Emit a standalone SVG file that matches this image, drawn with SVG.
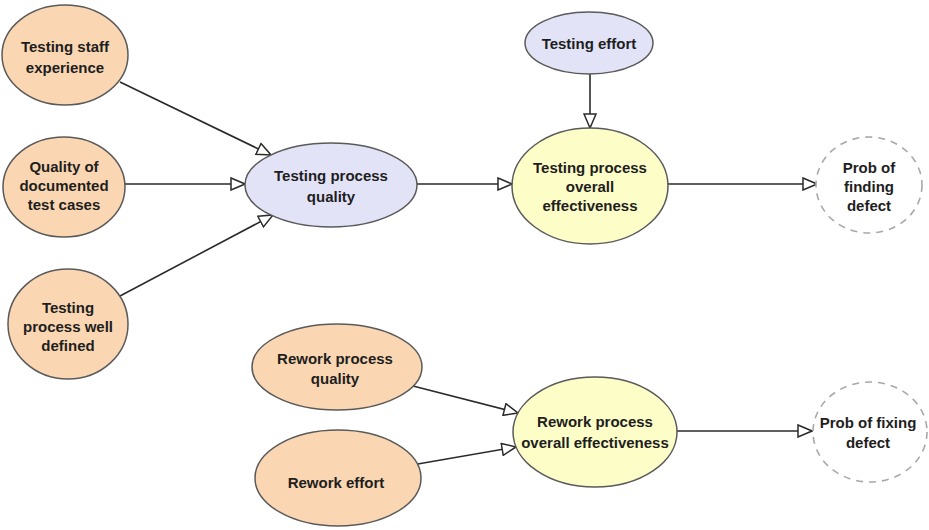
<svg xmlns="http://www.w3.org/2000/svg" width="929" height="530" viewBox="0 0 929 530">
<style>
.n{stroke:#5a5a5a;stroke-width:1.5}
.o{fill:#fad7b2}
.b{fill:#e3e3f8}
.y{fill:#fdfdc8}
.p{fill:#ffffff;stroke:#a8a8a8;stroke-width:1.6;stroke-dasharray:7 6}
text{font-family:"Liberation Sans",Arial,sans-serif;font-weight:bold;font-size:15px;fill:#1e1e1e;text-anchor:middle;dominant-baseline:central}
.c line{stroke:#2a2a2a;stroke-width:1.6;marker-end:url(#ah)}
</style>
<defs>
<marker id="ah" markerUnits="userSpaceOnUse" markerWidth="16" markerHeight="14" refX="15" refY="7" orient="auto">
<path d="M1,1 L15,7 L1,13 z" fill="#fff" stroke="#2a2a2a" stroke-width="1.5"/>
</marker>
</defs>
<rect width="929" height="530" fill="#fff"/>
<g class="c" id="connectors">
<line x1="120" y1="82" x2="271" y2="155"/>
<line x1="125" y1="184" x2="245" y2="184"/>
<line x1="120" y1="296" x2="273" y2="215"/>
<line x1="417" y1="184" x2="512" y2="184"/>
<line x1="590" y1="74" x2="590" y2="128"/>
<line x1="668" y1="184" x2="817" y2="184"/>
<line x1="413" y1="386" x2="518" y2="413"/>
<line x1="412" y1="465" x2="516" y2="447"/>
<line x1="677" y1="431" x2="812" y2="431"/>
</g>
<g id="testing-staff-experience">
<ellipse class="n o" cx="65" cy="55" rx="63" ry="50"/>
<text x="65" y="46">Testing staff</text>
<text x="65" y="67">experience</text>
</g>
<g id="quality-documented-test-cases">
<ellipse class="n o" cx="64" cy="187" rx="61" ry="50"/>
<text x="64" y="166">Quality of</text>
<text x="64" y="185">documented</text>
<text x="64" y="204">test cases</text>
</g>
<g id="testing-process-well-defined">
<ellipse class="n o" cx="68" cy="324" rx="60" ry="55"/>
<text x="68" y="307">Testing</text>
<text x="68" y="326">process well</text>
<text x="68" y="345">defined</text>
</g>
<g id="testing-process-quality">
<ellipse class="n b" cx="331" cy="185" rx="86" ry="42"/>
<text x="331" y="175">Testing process</text>
<text x="331" y="196">quality</text>
</g>
<g id="testing-effort">
<ellipse class="n b" cx="589" cy="43" rx="64" ry="31"/>
<text x="589" y="43">Testing effort</text>
</g>
<g id="testing-process-overall-effectiveness">
<ellipse class="n y" cx="590" cy="186" rx="78" ry="58"/>
<text x="590" y="167">Testing process</text>
<text x="590" y="186">overall</text>
<text x="590" y="205">effectiveness</text>
</g>
<g id="prob-finding-defect">
<ellipse class="p" cx="869" cy="185" rx="53" ry="48"/>
<text x="869" y="167">Prob of</text>
<text x="869" y="186">finding</text>
<text x="869" y="205">defect</text>
</g>
<g id="rework-process-quality">
<ellipse class="n o" cx="337" cy="367" rx="85" ry="43"/>
<text x="335" y="358">Rework process</text>
<text x="335" y="378">quality</text>
</g>
<g id="rework-effort">
<ellipse class="n o" cx="338" cy="478" rx="83" ry="48"/>
<text x="336" y="482">Rework effort</text>
</g>
<g id="rework-process-overall-effectiveness">
<ellipse class="n y" cx="595" cy="432" rx="82" ry="55"/>
<text x="595" y="421">Rework process</text>
<text x="595" y="442">overall effectiveness</text>
</g>
<g id="prob-fixing-defect">
<ellipse class="p" cx="870" cy="432" rx="57" ry="50"/>
<text x="868" y="422">Prob of fixing</text>
<text x="868" y="442">defect</text>
</g>
</svg>
